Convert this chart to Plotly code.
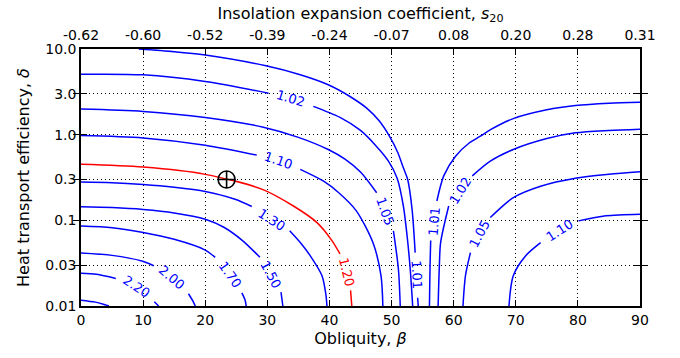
import math
import plotly.graph_objects as go

# ---- axis tick data ----
beta_ticks = [0, 10, 20, 30, 40, 50, 60, 70, 80, 90]
s20_labels = ["-0.62", "-0.60", "-0.52", "-0.39", "-0.24", "-0.07", "0.08", "0.20", "0.28", "0.31"]
delta_ticks = [0.01, 0.03, 0.1, 0.3, 1, 3, 10]
delta_labels = ["0.01", "0.03", "0.1", "0.3", "1.0", "3.0", "10.0"]

# ---- contour lines (beta, delta); None = gap for inline label ----
c240_beta = [0, 2.3, 3.6, 4.5]
c240_delta = [0.0117, 0.0111, 0.0105, 0.0100]

c220_beta = [0, 2.5, 5.6, None, 11.8, 12.5]
c220_delta = [0.0241, 0.0235, 0.0210, None, 0.0112, 0.0100]

c200_beta = [0, 5, 9.8, 11.7, None, 17.3, 18.0, 18.4]
c200_delta = [0.0416, 0.039, 0.0335, 0.0295, None, 0.0139, 0.0115, 0.0100]

c170_beta = [0, 5, 9.8, 15, 20, 21.6, None, 25.9, 26.4, 26.6]
c170_delta = [0.0857, 0.082, 0.0725, 0.060, 0.045, 0.037, None, 0.0142, 0.0118, 0.0100]

c150_beta = [0, 5, 10, 15, 20, 23, 26, 28.8, None, 32.2, 32.5]
c150_delta = [0.144, 0.141, 0.134, 0.122, 0.103, 0.083, 0.058, 0.037, None, 0.0145, 0.0100]

c130_beta = [0, 5, 10, 15, 20, 24.8, 27.5, None, 33.6, 35.5, 36.9, 38.8, 39.4, 39.6]
c130_delta = [0.28, 0.275, 0.262, 0.243, 0.217, 0.176, 0.145, None, 0.0755, 0.053, 0.0387, 0.0226, 0.014, 0.0100]

c120_beta = [0, 10, 20, 29.2, 34.2, 38.0, 40.4, 41.7, None, 43.4, 43.6]
c120_delta = [0.45, 0.418, 0.344, 0.230, 0.147, 0.094, 0.058, 0.0405, None, 0.0152, 0.0100]

c110_beta = [0, 10, 20, 28.3, None, 35.3, 39.0, 41.5, 44.3, 47.0, 48.3, 48.6]
c110_delta = [0.977, 0.916, 0.753, 0.577, None, 0.394, 0.288, 0.21, 0.13, 0.055, 0.0226, 0.0100]

c105_beta = [0, 10, 20, 29.2, 35, 39.8, 42.5, 45.0, 47.6, None, 50.3, 51.1, 51.4]
c105_delta = [1.99, 1.87, 1.59, 1.23, 0.93, 0.671, 0.518, 0.366, 0.21, None, 0.0755, 0.027, 0.0100]

c102_beta = [0, 10, 20, 30.2, None, 37.4, 41.7, 45.0, 47.4, 49.5, 50.9, 51.9, 52.5, 53.0, 53.4]
c102_delta = [5.07, 4.99, 4.17, 3.05, None, 2.14, 1.59, 1.12, 0.753, 0.491, 0.31, 0.147, 0.066, 0.0273, 0.0100]

c101_beta = [9.3, 15, 20, 29.6, 35.3, 39.8, 43.3, 46.0, 48.0, 49.7, 51.0, 51.9, 52.6, 53.3, 53.8, None, 54.2, 54.3]
c101_delta = [10, 9.3, 8.5, 6.4, 5.0, 3.82, 2.79, 2.04, 1.45, 0.95, 0.62, 0.41, 0.30, 0.135, 0.042, None, 0.0125, 0.0100]

r101_beta = [56.1, 56.2, 56.3, None, 57.3, 58.4, 60.3, 62.5, 64.3, 66, 69.6, 75, 79.6, 85, 90]
r101_delta = [0.0100, 0.030, 0.058, None, 0.168, 0.33, 0.561, 0.8, 0.96, 1.15, 1.54, 1.95, 2.19, 2.33, 2.39]

r102_beta = [57.5, 57.7, 57.9, 59.2, None, 63.0, 65.9, 69.6, 75, 79.6, 85, 90]
r102_delta = [0.0100, 0.03, 0.055, 0.147, None, 0.33, 0.49, 0.671, 0.9, 1.05, 1.12, 1.16]

r105_beta = [61.5, 61.9, 62.7, None, 65.9, 69.6, 74, 79.6, 85, 90]
r105_delta = [0.0100, 0.0226, 0.042, None, 0.108, 0.184, 0.25, 0.31, 0.345, 0.37]

r110_beta = [68.9, 69.6, 71.6, 74.0, None, 80.1, 84.5, 90]
r110_delta = [0.0100, 0.0226, 0.0387, 0.055, None, 0.0986, 0.113, 0.118]

lines = [
    (c240_beta, c240_delta, "blue"),
    (c220_beta, c220_delta, "blue"),
    (c200_beta, c200_delta, "blue"),
    (c170_beta, c170_delta, "blue"),
    (c150_beta, c150_delta, "blue"),
    (c130_beta, c130_delta, "blue"),
    (c120_beta, c120_delta, "red"),
    (c110_beta, c110_delta, "blue"),
    (c105_beta, c105_delta, "blue"),
    (c102_beta, c102_delta, "blue"),
    (c101_beta, c101_delta, "blue"),
    (r101_beta, r101_delta, "blue"),
    (r102_beta, r102_delta, "blue"),
    (r105_beta, r105_delta, "blue"),
    (r110_beta, r110_delta, "blue"),
]

# inline contour labels: text, beta, delta
label_text = ["2.20", "2.00", "1.70", "1.50", "1.30", "1.20", "1.10", "1.05", "1.02", "1.01",
              "1.01", "1.02", "1.05", "1.10"]
label_beta = [8.9, 14.6, 24.0, 30.6, 30.6, 42.7, 31.8, 49.0, 33.8, 54.1,
              56.8, 61.1, 64.2, 77.0]
label_delta = [0.0168, 0.0213, 0.0235, 0.0236, 0.101, 0.0250, 0.50, 0.128, 2.62, 0.0235,
               0.098, 0.222, 0.070, 0.0766]
label_angle = [33, 40, 55, 62, 33, 76, 19, 70, 17, 87, -85, -58, -62, -33]
label_color = ["blue"] * 5 + ["red"] + ["blue"] * 8

earth_beta = [23.44]
earth_delta = [0.30]

fig = go.Figure()
for b, d, col in lines:
    fig.add_trace(go.Scatter(x=b, y=d, mode="lines", connectgaps=False,
                             line=dict(color=col, width=1.5, shape="spline", smoothing=0.8),
                             showlegend=False, hoverinfo="skip"))

fig.add_trace(go.Scatter(x=earth_beta, y=earth_delta, mode="markers",
                         marker=dict(symbol="circle-cross-open", size=17, color="black",
                                     line=dict(width=1.6, color="black")),
                         showlegend=False, hoverinfo="skip"))

# dummy trace to activate the top axis
fig.add_trace(go.Scatter(x=[None], y=[None], xaxis="x2", yaxis="y", showlegend=False,
                         hoverinfo="skip"))

for t, b, d, a, c in zip(label_text, label_beta, label_delta, label_angle, label_color):
    # annotation positions on a log axis are given in log10 units
    fig.add_annotation(x=b, y=math.log10(d), xref="x", yref="y", text=t, showarrow=False,
                       textangle=a, font=dict(family="DejaVu Sans", size=13, color=c))

font = dict(family="DejaVu Sans", size=14, color="black")
axis_common = dict(showline=True, linecolor="black", linewidth=1.5, ticks="inside",
                   ticklen=6, tickwidth=1, tickcolor="black", showgrid=True,
                   gridcolor="black", gridwidth=1, griddash="1px,3px", zeroline=False,
                   tickfont=font)

fig.update_layout(
    width=680, height=358,
    margin=dict(l=81, r=40, t=47, b=52),
    plot_bgcolor="white", paper_bgcolor="white",
    font=font,
    xaxis=dict(range=[0, 90], tickvals=beta_ticks, ticktext=[str(v) for v in beta_ticks],
               mirror=True,
               title=dict(text="Obliquity, <i>β</i>", font=dict(family="DejaVu Sans", size=16),
                          standoff=6),
               **axis_common),
    xaxis2=dict(range=[0, 90], overlaying="x", side="top", tickvals=beta_ticks,
                ticktext=s20_labels, showline=True, linecolor="black", linewidth=1.5,
                ticks="inside", ticklen=6, tickcolor="black", showgrid=False,
                zeroline=False, tickfont=font, ticklabelstandoff=2,
                title=dict(text="Insolation expansion coefficient, <i>s</i><sub>20</sub>",
                           font=dict(family="DejaVu Sans", size=16), standoff=3)),
    yaxis=dict(type="log", range=[-2, 1], tickvals=delta_ticks, ticktext=delta_labels,
               mirror="allticks",
               title=dict(text="Heat transport efficiency, <i>δ</i>",
                          font=dict(family="DejaVu Sans", size=16), standoff=12),
               **axis_common),
)

fig.write_html("out.html")
